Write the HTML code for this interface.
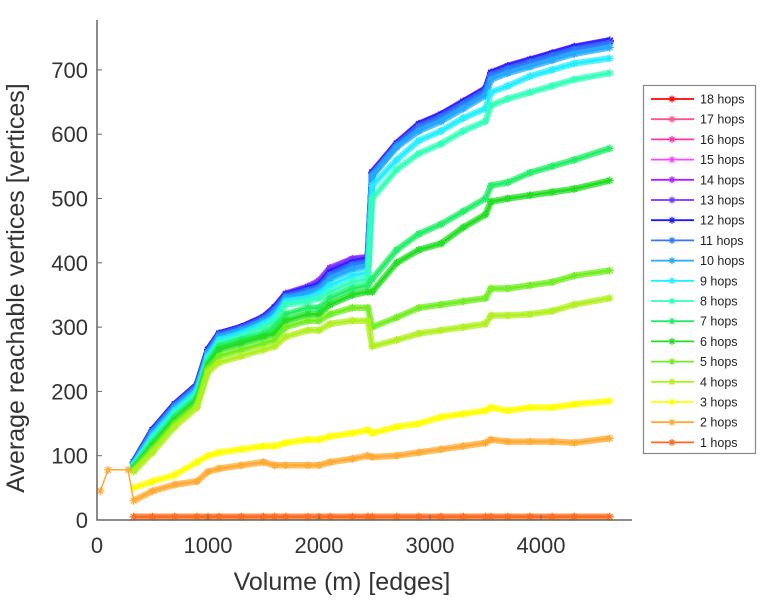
<!DOCTYPE html>
<html><head><meta charset="utf-8"><style>
body{margin:0;background:#fff;width:766px;height:600px;overflow:hidden}
svg{font-family:"Liberation Sans",sans-serif}
</style></head><body>
<svg id="chart" width="766" height="600" xmlns="http://www.w3.org/2000/svg">
<g id="plot"></g>
<g id="axes"></g>
<g id="legend"></g>
</svg>
<script>
const xTicks=[0,1000,2000,3000,4000];
const yTicks=[0,100,200,300,400,500,600,700];
const gridX=[330,500,700,900,1000,1100,1300,1500,1600,1700,1900,2000,2100,2300,2440,2480,2700,2900,3100,3300,3500,3550,3700,3900,4100,4300,4620];
const s1=[5,5,5,5,5,5,5,5,5,5,5,5,5,5,5,5,5,5,5,5,5,5,5,5,5,5,5];
const s2x=[30,100,280];
const s2pre=[45,78,78];
const s2=[30,45,55,60,75,80,85,90,85,85,85,85,90,95,100,98,100,105,110,115,120,125,122,122,122,120,127];
const s3=[50,60,70,90,100,105,110,115,115,120,125,125,130,135,140,135,145,150,160,165,170,175,170,175,175,180,185];
const s4=[75,105,145,175,230,245,255,265,270,285,295,295,305,310,310,270,280,290,295,300,305,318,318,320,325,335,345];
const s5=[78,110,150,180,235,255,265,275,280,300,310,310,320,330,330,300,315,330,335,340,345,360,360,365,370,380,388];
const s6=[80,115,155,185,240,265,275,285,290,310,320,320,335,350,355,355,400,420,430,455,475,495,500,505,510,515,528];
const s7=[82,120,160,190,245,270,280,290,300,320,330,330,345,360,365,375,420,445,460,480,500,520,525,540,550,560,578];
const s8=[84,125,165,195,250,275,285,300,310,335,340,345,355,370,375,500,545,570,585,605,620,645,655,665,675,685,695];
const s9=[86,130,170,200,255,280,290,305,315,340,345,352,365,380,385,520,560,590,605,625,640,665,675,690,700,710,718];
const s10=[88,135,175,205,260,285,295,310,322,345,352,358,375,390,395,535,580,605,620,640,660,685,695,705,715,725,735];
const s11=[89,138,178,208,262,288,298,313,327,348,357,362,381,397,402,538,583,612,627,647,667,692,702,712,722,732,742];
const s12=[90,140,180,210,265,290,300,315,330,350,360,365,385,400,405,540,585,615,630,650,670,695,705,715,725,735,745];
const s13=[90,140,180,210,265,290,300,316,331,352,362,370,390,405,408,541,586,616,631,651,671,696,706,716,726,736,746];
const s14=[90,140,180,210,265,290,300,316,331,352,363,372,392,406,409,541,586,616,631,651,671,696,706,716,726,736,746];
const s15=[90,140,180,210,265,290,300,315,330,350,360,366,386,401,405,540,585,615,630,650,670,695,705,715,725,735,745];
const s16=[90,140,180,210,265,290,300,315,330,350,360,366,386,401,405,540,585,615,630,650,670,695,705,715,725,735,745];
const s17=[90,140,180,210,265,290,300,315,330,350,360,366,386,401,405,540,585,615,630,650,670,695,705,715,725,735,745];
const s18=[90,140,180,210,265,290,300,315,330,350,360,366,386,401,405,540,585,615,630,650,670,695,705,715,725,735,745];
const seriesNames=["1 hops","2 hops","3 hops","4 hops","5 hops","6 hops","7 hops","8 hops","9 hops","10 hops","11 hops","12 hops","13 hops","14 hops","15 hops","16 hops","17 hops","18 hops"];
const colors=["#ff6a1a","#ffaa33","#ffff00","#b0f020","#70ee20","#22dd22","#22ee66","#33ffbb","#22eeff","#22aaff","#3377ff","#1a1aff","#7733ff","#aa22ff","#ff44ff","#ff33aa","#ff5588","#ff0000"];
const allSeries=[s1,s2,s3,s4,s5,s6,s7,s8,s9,s10,s11,s12,s13,s14,s15,s16,s17,s18];

const NS="http://www.w3.org/2000/svg";
const X0=97,X1=632,Y0=520,Y1=20;
function sx(v){return X0+v*0.111;}
function sy(v){return Y0-v*0.643;}
function mk(tag,attrs,parent){const e=document.createElementNS(NS,tag);for(const k in attrs)e.setAttribute(k,attrs[k]);parent.appendChild(e);return e;}
const plot=document.getElementById('plot'),axes=document.getElementById('axes'),legend=document.getElementById('legend');

function star(g,x,y,c,r){
  mk('path',{d:`M${x-r},${y}H${x+r}M${x},${y-r}V${y+r}M${x-r*0.7},${y-r*0.7}L${x+r*0.7},${y+r*0.7}M${x-r*0.7},${y+r*0.7}L${x+r*0.7},${y-r*0.7}`,stroke:c,'stroke-width':1.2,fill:'none'},g);
}
for(let i=allSeries.length-1;i>=0;i--){
  const xs=gridX,ys=allSeries[i];
  const g=mk('g',{},plot);
  
  
  if(i===1){
    const pre=s2x.map((x,j)=>sx(x).toFixed(1)+','+sy(s2pre[j]).toFixed(1)).concat([sx(xs[0]).toFixed(1)+','+sy(ys[0]).toFixed(1)]).join(' ');
    mk('polyline',{points:pre,fill:'none',stroke:colors[i],'stroke-width':1.5},g);
    s2x.forEach((x,j)=>star(g,sx(x),sy(s2pre[j]),colors[i],4));
  }
  const pts=xs.map((x,j)=>sx(x).toFixed(1)+','+sy(ys[j]).toFixed(1)).join(' ');
  mk('polyline',{points:pts,fill:'none',stroke:colors[i],'stroke-width':6.5,'stroke-opacity':0.75,'stroke-linejoin':'round'},g);
  mk('polyline',{points:pts,fill:'none',stroke:colors[i],'stroke-width':2.5},g);
  xs.forEach((x,j)=>star(g,sx(x),sy(ys[j]),colors[i],4));
}
// axes
mk('path',{d:`M${X0},${Y1}V${Y0}H${X1}`,stroke:'#666','stroke-width':1.5,fill:'none'},axes);
yTicks.forEach(v=>{
  mk('line',{x1:X0,x2:X0+5,y1:sy(v),y2:sy(v),stroke:'#666'},axes);
  const t=mk('text',{x:X0-9,y:sy(v)+8,'text-anchor':'end','font-size':22,fill:'#333'},axes);
  
  
  t.textContent=v;
});
xTicks.forEach(v=>{
  mk('line',{x1:sx(v),x2:sx(v),y1:Y0,y2:Y0-5,stroke:'#666'},axes);
  const t=mk('text',{x:sx(v),y:553,'text-anchor':'middle','font-size':22,fill:'#333'},axes);
  
  
  t.textContent=v;
});
const xt=mk('text',{x:342,y:590,'text-anchor':'middle','font-size':25,fill:'#333'},axes);


xt.textContent='Volume (m) [edges]';
const yt=mk('text',{x:0,y:0,'text-anchor':'middle','font-size':25,fill:'#333',transform:'translate(24,288) rotate(-90)'},axes);


yt.textContent='Average reachable vertices [vertices]';
// legend
mk('rect',{x:643.5,y:85.5,width:112,height:368,fill:'#fff',stroke:'#888','stroke-width':1.2},legend);
for(let k=0;k<18;k++){
  const i=17-k,y=99+k*20.2;
  const g=mk('g',{},legend);
  
  
  mk('line',{x1:651,x2:694,y1:y,y2:y,stroke:colors[i],'stroke-width':1.8},g);
  star(g,672,y,colors[i],3.5);
  const t=mk('text',{x:700,y:y+4.5,'font-size':12.5,fill:'#222'},g);
  t.textContent=seriesNames[i];
}
</script>
</body></html>
